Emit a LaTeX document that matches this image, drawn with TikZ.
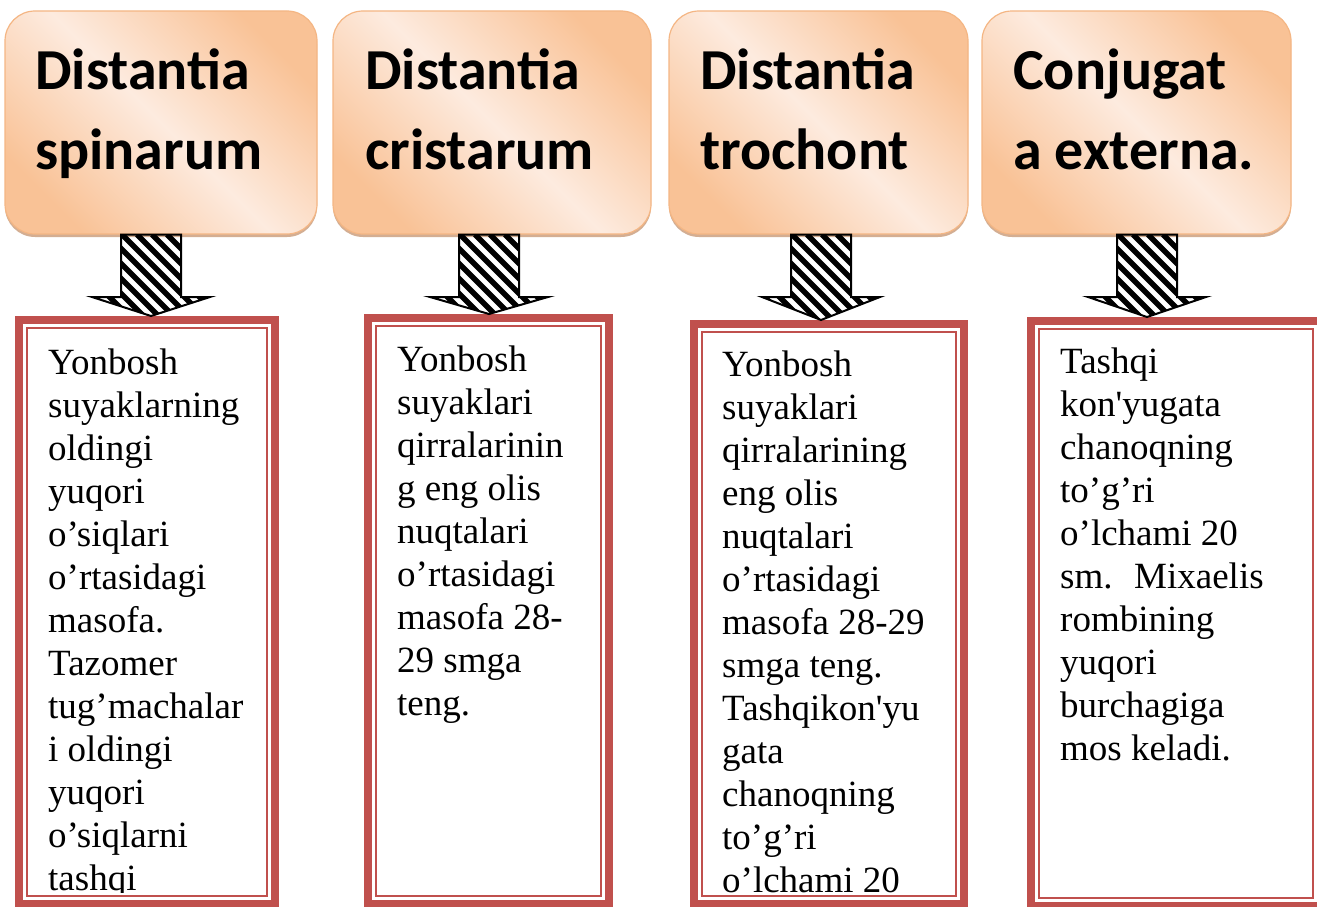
\documentclass[tikz,border=0pt]{standalone}
\usepackage{fontspec}
\setmainfont{Liberation Serif}[Ligatures=TeXOff]
\newfontfamily\headfont{Carlito}
\usetikzlibrary{shadows}
\definecolor{peachdark}{HTML}{F9C296}
\definecolor{peachlight}{HTML}{FDEBDF}
\definecolor{peachedge}{HTML}{F4B684}
\definecolor{shadowtan}{HTML}{C89A78}
\definecolor{framered}{HTML}{C0504D}
\tikzset{
	headbox/.style   = {draw=peachedge, line width=1.2pt, rounded corners=30pt,
		left color=peachdark, right color=peachdark, middle color=peachlight,
		shading angle=135, inner sep=0pt,
		drop shadow={shadow xshift=0pt, shadow yshift=-3pt, fill=shadowtan, opacity=.8}},
	headtext/.style  = {anchor=north west, inner sep=0pt, align=left,
		font=\headfont\bfseries\fontsize{58}{80}\selectfont},
	frame/.style     = {draw=framered, line width=8pt, fill=white, inner sep=0pt},
	thinframe/.style = {draw=framered, line width=2.5pt},
	bodytext/.style  = {anchor=north west, inner sep=0pt, align=left,
		font=\fontsize{37}{43}\selectfont},
	hatcharrow/.style = {draw=black, line width=2pt, line join=miter,
		path picture={\foreach \k in {-7,...,9}
			\draw[black, line width=5.5pt] ([xshift=\k*15pt]path picture bounding box.north west) -- ++(120,120);}},
}

\begin{document}
\begin{tikzpicture}[ x=1pt,                %<--one unit is one pixel
                     y=-1pt ]              %<--y counts downwards, like the page

    \clip (0,0) rectangle (1317,907);      %<--page size

    \draw%-----------------------------------------------------------------------------------------
    	%Drawing the Title Blocks:
    	node(t1) at (161,122.5)  [headbox, minimum width=312pt, minimum height=223pt] {}
    	node(t2) at (492,122.5)  [headbox, minimum width=318pt, minimum height=223pt] {}
    	node(t3) at (818.5,122.5)[headbox, minimum width=299pt, minimum height=223pt] {}
    	node(t4) at (1136.5,122.5)[headbox, minimum width=309pt, minimum height=223pt] {}
    	node(t1txt) at (35,49)   [headtext] {Distantia\\spinarum}
    	node(t2txt) at (365,49)  [headtext] {Distantia\\cristarum}
    	node(t3txt) at (700,49)  [headtext] {Distantia\\trochont}
    	node(t4txt) at (1013,49) [headtext] {Conjugat\\a externa.}
    	%Drawing the Text Frames:
    	node(b1) at (147,612)    [frame, minimum width=256pt, minimum height=584pt] {}
    	node(b2) at (488.5,611)  [frame, minimum width=241pt, minimum height=586pt] {}
    	node(b3) at (829,614)    [frame, minimum width=270pt, minimum height=580pt] {}
    	node(b4) at (1176,613.5) [frame, minimum width=290pt, minimum height=585pt] {}
    ;%---------------------------------------------------------------------------------------------

    %Inner lines of the frames
    \foreach \n in {1,...,4}
    	\draw[thinframe] ([shift={(12,12)}]b\n.north west) rectangle ([shift={(-12,-12)}]b\n.south east);

    %Frame texts
    \begin{scope}
    \clip (0,0) rectangle (1317,892);
    \draw%-----------------------------------------------------------------------------------------
    	node(b1txt) at (48,349)   [bodytext] {Yonbosh\\suyaklarning\\oldingi\\yuqori\\o’siqlari\\%
    		o’rtasidagi\\masofa.\\Tazomer\\tug’machalar\\i oldingi\\yuqori\\o’siqlarni\\tashqi}
    	node(b2txt) at (397,346)  [bodytext] {Yonbosh\\suyaklari\\qirralarinin\\g eng olis\\%
    		nuqtalari\\o’rtasidagi\\masofa 28-\\29 smga\\teng.}
    	node(b3txt) at (722,351)  [bodytext] {Yonbosh\\suyaklari\\qirralarining\\eng olis\\%
    		nuqtalari\\o’rtasidagi\\masofa 28-29\\smga teng.\\Tashqikon'yu\\gata\\chanoqning\\%
    		to’g’ri\\o’lchami 20}
    	node(b4txt) at (1060,348) [bodytext] {Tashqi\\kon'yugata\\chanoqning\\to’g’ri\\%
    		o’lchami 20\\sm.~ Mixaelis\\rombining\\yuqori\\burchagiga\\mos keladi.}
    ;%---------------------------------------------------------------------------------------------
    \end{scope}

    %Joining the Blocks
    \foreach \n/\x in {1/151,2/489,3/821,4/1147}
    	\draw[hatcharrow] ({\x-30},0 |- t\n.south) -- ({\x-30},297) -- ({\x-59},297)
    		-- (\x,0 |- b\n.north) -- ({\x+59},297) -- ({\x+30},297)
    		-- ({\x+30},0 |- t\n.south) -- cycle;
\end{tikzpicture}
\end{document}
